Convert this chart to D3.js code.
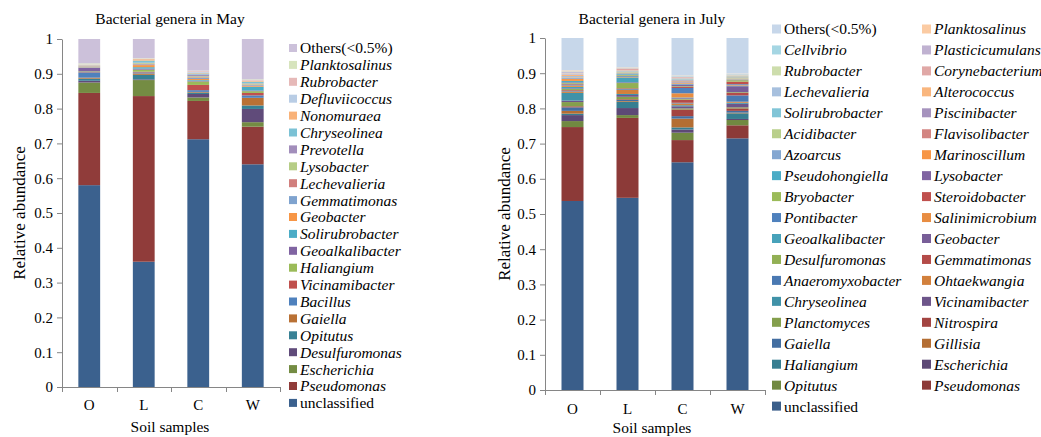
<!DOCTYPE html>
<html><head><meta charset="utf-8">
<script src="https://cdn.jsdelivr.net/npm/d3@7/dist/d3.min.js"></script>
<style>
body{margin:0;background:#fff;}
text{font-family:"Liberation Serif","Times New Roman",serif;fill:#000;}
</style>
</head><body>
<svg id="chart" width="1041" height="437"></svg>
<script>
// ---------- DATA ----------
const samples = ["O", "L", "C", "W"];
const yTicks = [0, 0.1, 0.2, 0.3, 0.4, 0.5, 0.6, 0.7, 0.8, 0.9, 1];

// May (stack order bottom -> top)
const mayGenera = ["unclassified","Pseudomonas","Escherichia","Desulfuromonas","Opitutus","Gaiella","Bacillus",
  "Vicinamibacter","Haliangium","Geoalkalibacter","Solirubrobacter","Geobacter","Gemmatimonas","Lechevalieria",
  "Lysobacter","Prevotella","Chryseolinea","Nonomuraea","Defluviicoccus","Rubrobacter","Planktosalinus","Others(<0.5%)"];
const mayO = [0.58,0.265,0.03,0.005,0.006,0.003,0.015,0.001,0.002,0.010,0.001,0.001,0.001,0.001,0.001,0.001,0.001,0.001,0.001,0.001,0.003,0.071];
const mayL = [0.36,0.476,0.046,0.002,0.013,0.004,0.003,0.002,0.006,0.003,0.004,0.006,0.002,0.002,0.002,0.001,0.006,0.004,0.001,0.001,0.001,0.055];
const mayC = [0.712,0.11,0.01,0.01,0.004,0.002,0.005,0.015,0.01,0.002,0.002,0.003,0.003,0.002,0.003,0.005,0.003,0.002,0.003,0.002,0.001,0.092];
const mayW = [0.64,0.108,0.013,0.038,0.01,0.022,0.007,0.007,0.005,0.002,0.011,0.002,0.002,0.002,0.003,0.001,0.004,0.002,0.001,0.002,0.002,0.116];

// July (stack order bottom -> top)
const julyGenera = ["unclassified","Pseudomonas","Opitutus","Escherichia","Haliangium","Gillisia","Gaiella",
  "Nitrospira","Planctomyces","Vicinamibacter","Chryseolinea","Ohtaekwangia","Anaeromyxobacter","Gemmatimonas",
  "Desulfuromonas","Geobacter","Geoalkalibacter","Salinimicrobium","Pontibacter","Steroidobacter","Bryobacter",
  "Lysobacter","Pseudohongiella","Marinoscillum","Azoarcus","Flavisolibacter","Acidibacter","Piscinibacter",
  "Solirubrobacter","Alterococcus","Lechevalieria","Corynebacterium","Rubrobacter","Plasticicumulans","Cellvibrio",
  "Planktosalinus","Others(<0.5%)"];
const julyO = [0.537,0.21,0.017,0.017,0.004,0.008,0.01,0.003,0.012,0.004,0.022,0.004,0.002,0.002,0.003,0.002,0.004,0.004,0.003,0.002,0.002,0.002,0.004,0.006,0.003,0.001,0.001,0.002,0.001,0.003,0.002,0.002,0.001,0.003,0.002,0.003,0.092];
const julyL = [0.546,0.227,0.008,0.02,0.018,0.002,0.003,0.002,0.007,0.005,0.003,0.012,0.002,0.002,0.015,0.002,0.014,0.002,0.002,0.001,0.002,0.001,0.003,0.001,0.001,0.001,0.002,0.001,0.001,0.002,0.001,0.004,0.001,0.001,0.001,0.001,0.083];
const julyC = [0.647,0.063,0.021,0.009,0.006,0.025,0.007,0.019,0.003,0.006,0.003,0.005,0.002,0.009,0.002,0.002,0.002,0.012,0.015,0.003,0.002,0.005,0.002,0.002,0.002,0.003,0.002,0.002,0.002,0.002,0.002,0.002,0.001,0.001,0.002,0.001,0.106];
const julyW = [0.715,0.037,0.015,0.003,0.016,0.002,0.005,0.007,0.003,0.01,0.003,0.003,0.018,0.007,0.002,0.017,0.002,0.002,0.002,0.007,0.004,0.001,0.001,0.001,0.001,0.001,0.003,0.001,0.002,0.001,0.001,0.001,0.002,0.001,0.001,0.001,0.101];

// ---------- STYLE ----------
const baseColors = ["#4F81BD","#C0504D","#9BBB59","#8064A2","#4BACC6","#F79646"];
const mayShades = [-0.25, 0, 0.27, 0.6];
const julyShades = [-0.27, -0.15, -0.06, 0, 0.3, 0.5, 0.68];
const axisColor = "#868686";
const plainNames = new Set(["unclassified", "Others(<0.5%)"]);

function shade(hex, t) {
  const c = d3.rgb(hex);
  const f = v => t < 0 ? v * (1 + t) : v + (255 - v) * t;
  return d3.rgb(f(c.r), f(c.g), f(c.b)).formatHex();
}
function palette(n, shades) {
  return d3.range(n).map(i => shade(baseColors[i % 6], shades[Math.floor(i / 6)]));
}

const svg = d3.select("#chart");

function drawChart(o) {
  const g = svg.append("g");
  const rows = samples.map((s, j) => {
    const r = { sample: s };
    o.genera.forEach((name, i) => { r[name] = o.values[j][i]; });
    return r;
  });
  const colors = palette(o.genera.length, o.shades);
  const color = d3.scaleOrdinal().domain(o.genera).range(colors);

  const x = d3.scaleBand().domain(samples).range([o.x0, o.x1]).paddingInner(0.6).paddingOuter(0.3);
  const y = d3.scaleLinear().domain([0, 1]).range([o.yBot, o.yTop]);
  const stacked = d3.stack().keys(o.genera)(rows);

  g.selectAll("g.layer").data(stacked).join("g").attr("class", "layer")
    .attr("fill", d => color(d.key))
    .selectAll("rect").data(d => d).join("rect")
    .attr("x", d => x(d.data.sample))
    .attr("width", x.bandwidth())
    .attr("y", d => y(Math.min(1, d[1])))
    .attr("height", d => Math.max(0, y(d[0]) - y(Math.min(1, d[1]))));

  // y axis
  const ya = g.append("g").attr("transform", `translate(${o.x0},0)`)
    .call(d3.axisLeft(y).tickValues(yTicks).tickFormat(d3.format("~g")).tickSize(5).tickSizeOuter(0).tickPadding(4));
  ya.attr("font-family", "Liberation Serif");
  ya.select(".domain").attr("stroke", axisColor);
  ya.selectAll(".tick line").attr("stroke", axisColor);
  ya.selectAll(".tick text").attr("font-size", 15).attr("fill", "#000");

  // x axis
  const step = x.step();
  g.append("line").attr("x1", o.x0).attr("x2", o.x1).attr("y1", o.yBot + 0.5).attr("y2", o.yBot + 0.5)
    .attr("stroke", axisColor);
  g.selectAll("line.xt").data(d3.range(samples.length + 1)).join("line").attr("class", "xt")
    .attr("x1", i => Math.round(o.x0 + i * step) + 0.5).attr("x2", i => Math.round(o.x0 + i * step) + 0.5)
    .attr("y1", o.yBot).attr("y2", o.yBot + 5).attr("stroke", axisColor);
  g.selectAll("text.xl").data(samples).join("text").attr("class", "xl")
    .attr("x", s => x(s) + x.bandwidth() / 2).attr("y", o.catY)
    .attr("text-anchor", "middle").attr("font-size", 15).text(s => s);

  // titles
  g.append("text").attr("x", o.titleX).attr("y", o.titleY).attr("text-anchor", "middle")
    .attr("font-size", 15.5).text(o.title);
  g.append("text").attr("x", o.titleX).attr("y", o.xTitleY).attr("text-anchor", "middle")
    .attr("font-size", 15.5).text("Soil samples");
  g.append("text").attr("transform", `translate(${o.yTitleX},${(o.yTop + o.yBot) / 2}) rotate(-90)`)
    .attr("text-anchor", "middle").attr("font-size", 17).text("Relative abundance");

  // legend (reverse series order)
  const items = o.genera.slice().reverse();
  const lg = g.append("g");
  const it = lg.selectAll("g").data(items).join("g")
    .attr("transform", (d, i) => {
      const r = Math.floor(i / o.legCols), c = i % o.legCols;
      return `translate(${o.legX + c * o.legColW},${o.legY + r * o.legRowH})`;
    });
  it.append("rect").attr("x", 0).attr("y", -o.sq / 2).attr("width", o.sq).attr("height", o.sq)
    .attr("fill", d => color(d));
  it.append("text").attr("x", o.sq + 3).attr("y", 0).attr("dy", "0.35em")
    .attr("font-size", 15.5)
    .attr("font-style", d => plainNames.has(d) ? "normal" : "italic")
    .text(d => d);
}

drawChart({
  title: "Bacterial genera in May", genera: mayGenera, values: [mayO, mayL, mayC, mayW], shades: mayShades,
  x0: 62, x1: 280, yTop: 39, yBot: 387, catY: 410, titleX: 170, titleY: 24, xTitleY: 432, yTitleX: 25,
  legX: 289, legY: 48, legRowH: 16.9, legCols: 1, legColW: 0, sq: 8
});
drawChart({
  title: "Bacterial genera in July", genera: julyGenera, values: [julyO, julyL, julyC, julyW], shades: julyShades,
  x0: 545, x1: 765, yTop: 38, yBot: 390, catY: 414, titleX: 652, titleY: 24, xTitleY: 433, yTitleX: 510,
  legX: 772, legY: 29, legRowH: 20.95, legCols: 2, legColW: 150, sq: 9
});
</script>
</body></html>
